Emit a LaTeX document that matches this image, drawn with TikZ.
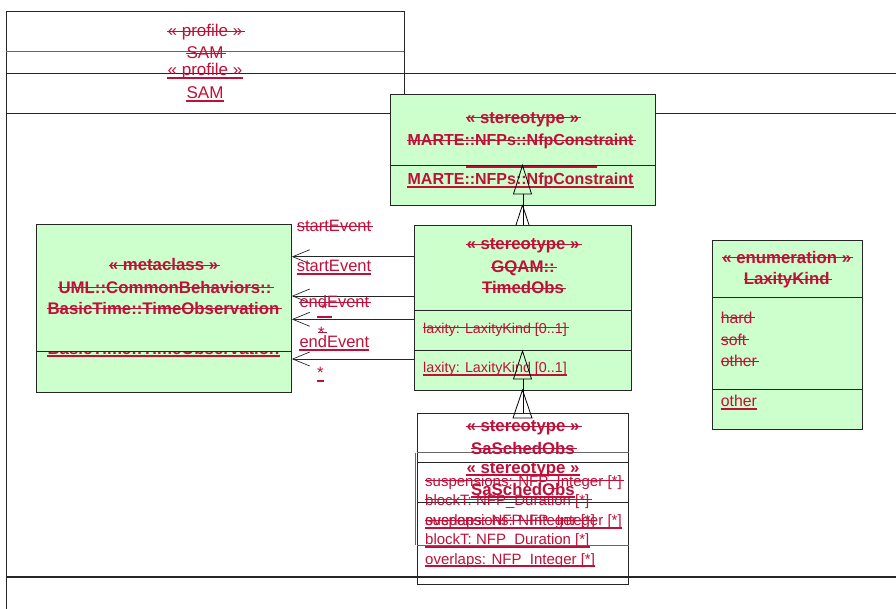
\documentclass[tikz,border=0pt]{standalone}
\usepackage{fontspec}
\setmainfont{Liberation Sans}
\usetikzlibrary{arrows.meta, calc}

\definecolor{umlgreen}{RGB}{204,255,204}
\definecolor{diffred}{RGB}{190,16,56}
\newcommand{\attrfont}{\fontsize{15}{18}\selectfont}
\newcommand{\enumfont}{\fontsize{15.8}{18}\selectfont}
\newcommand{\laxfont}{\fontsize{14.3}{17}\selectfont}
\newcommand{\rolefont}{\fontsize{16.5}{19}\selectfont}
\newcommand{\namefont}{\fontsize{16.8}{19}\selectfont\bfseries}
\newcommand{\nfpfont}{\fontsize{16}{19}\selectfont\bfseries}
\newcommand{\pkgfont}{\fontsize{17}{20}\selectfont}

\tikzset{
  umlbox/.style={draw=black!85, fill=umlgreen, line width=0.8pt, anchor=north west, inner sep=0pt},
  sep/.style={draw=black!85, line width=0.8pt},
  del/.style={text=diffred, anchor=base, inner sep=0pt, font=\attrfont,
    append after command={([yshift=5.5pt]\tikzlastnode.base west) edge[draw=diffred, line width=1pt] ([xshift=2pt,yshift=5.5pt]\tikzlastnode.base east)}},
  ins/.style={text=diffred, anchor=base, inner sep=0pt, font=\attrfont,
    append after command={([yshift=-2.2pt]\tikzlastnode.base west) edge[draw=diffred, line width=2pt] ([yshift=-2.2pt]\tikzlastnode.base east)}},
  assoc/.style={draw=black!85, line width=0.7pt, -{Straight Barb[length=17pt, width=14pt]}},
  gen/.style={draw=black, line width=0.8pt},
}

\begin{document}
\begin{tikzpicture}[x=1pt, y=-1pt]
\useasboundingbox (0,0) rectangle (896,609);

% Profile package
\draw[sep] (6,609) -- (6,11) -- (404,11) -- (404,113);
\draw[draw=black!60, line width=0.8pt] (6,51) -- (404,51);
\draw[sep] (6,73) -- (896,73);
\draw[sep] (6,113) -- (896,113);
\draw[sep, line width=1.1pt] (6,577) -- (896,577);
\node[del, font=\pkgfont] (pkgold) at (205,37) {« profile »};
\node[del, font=\pkgfont] (samold) at (205,59) {SAM};
\node[ins, font=\pkgfont] (pkgnew) at (205,76) {« profile »};
\node[ins, font=\pkgfont] (samnew) at (205,99) {SAM};

% Metaclass
\node[umlbox, minimum width=255pt, minimum height=168pt] (meta) at (36,224) {};
\node[ins, font=\namefont] (metanew) at (163.5,354) {BasicTime::TimeObservation};
\draw[sep, fill=umlgreen] (meta.north west) rectangle (291,351.7);
\node[del, font=\namefont] (metast) at (163.5,271) {« metaclass »};
\node[del, font=\namefont] (metaname1) at (165,293.3) {UML::CommonBehaviors::};
\node[del, font=\namefont] (metaname2) at (163.5,314.3) {BasicTime::TimeObservation};

% NfpConstraint
\node[umlbox, minimum width=265pt, minimum height=111pt] (nfp) at (390,94) {};
\draw[draw=diffred, line width=2pt] (466,166.8) -- (597,166.8);
\draw[sep] (nfp.west |- 0,165.3) -- (nfp.east |- 0,165.3);
\node[del, font=\namefont] (nfpst) at (522.5,123.3) {« stereotype »};
\node[del, font=\nfpfont] (nfpold) at (520.5,145.7) {MARTE::NFPs::NfpConstraint};
\node[ins, font=\nfpfont] (nfpnew) at (520.5,185) {MARTE::NFPs::NfpConstraint};

% TimedObs
\node[umlbox, minimum width=217pt, minimum height=165pt] (timed) at (414,225) {};
\draw[sep] (timed.west |- 0,310) -- (timed.east |- 0,310);
\draw[sep] (timed.west |- 0,350) -- (timed.east |- 0,350);
\node[del, font=\namefont] (timedst) at (523,250) {« stereotype »};
\node[del, font=\namefont] (timedname1) at (523,272.7) {GQAM::};
\node[del, font=\namefont] (timedname2) at (523,294) {TimedObs};
\node[del, font=\laxfont, anchor=base west] (laxold) at (423,333.3) {laxity: LaxityKind [0..1]};
\node[ins, font=\laxfont, anchor=base west] (laxnew) at (423,372.7) {laxity: LaxityKind [0..1]};

% LaxityKind
\node[umlbox, minimum width=150.6pt, minimum height=189pt] (enum) at (711.7,240) {};
\draw[sep] (enum.west |- 0,297.3) -- (enum.east |- 0,297.3);
\draw[sep] (enum.west |- 0,389.3) -- (enum.east |- 0,389.3);
\node[del, font=\namefont] (enumst) at (786.7,263.3) {« enumeration »};
\node[del, font=\namefont] (enumname) at (786.7,285) {LaxityKind};
\node[del, font=\enumfont, anchor=base west] (hard) at (720.7,323.3) {hard};
\node[del, font=\enumfont, anchor=base west] (soft) at (720.7,345) {soft};
\node[del, font=\enumfont, anchor=base west] (otherold) at (720.7,366.7) {other};
\node[ins, font=\enumfont, anchor=base west] (othernew) at (720.7,406.7) {other};

% SaSchedObs
\node[umlbox, fill=none, minimum width=211pt, minimum height=171pt] (sched) at (417,413) {};
\draw[draw=black!60, line width=0.8pt] (sched.west |- 0,452.7) -- (sched.east |- 0,452.7);
\draw[sep] (sched.west |- 0,462.7) -- (sched.east |- 0,462.7);
\draw[sep] (sched.west |- 0,502) -- (sched.east |- 0,502);
\draw[draw=black!60, line width=0.8pt] (sched.west |- 0,545) -- (sched.east |- 0,545);
\draw[draw=black!60, line width=0.8pt] ([xshift=-1.5pt]sched.west |- 0,452.7) -- ([xshift=-1.5pt]sched.west |- 0,545);
\node[del, font=\namefont] (schedst) at (523,431.7) {« stereotype »};
\node[del, font=\namefont] (schedold) at (523,454) {SaSchedObs};
\node[ins, font=\namefont] (schedstnew) at (523,473) {« stereotype »};
\node[ins, font=\namefont] (schednew) at (523,495) {SaSchedObs};
\node[del, anchor=base west] (suspold) at (425,486) {suspensions: NFP\_Integer [*]};
\node[del, anchor=base west] (blockold) at (425,505) {blockT: NFP\_Duration [*]};
\node[del, anchor=base west] (overold) at (425,525.5) {overlaps: NFP\_Integer [*]};
\node[ins, anchor=base west] (suspnew) at (425,525.5) {suspensions: NFP\_Integer [*]};
\node[ins, anchor=base west] (blocknew) at (425,544.5) {blockT: NFP\_Duration [*]};
\node[ins, anchor=base west] (overnew) at (425,564) {overlaps: NFP\_Integer [*]};

% Associations
\coordinate (startold) at (0,256.7);
\coordinate (endold) at (0,296);
\coordinate (startnew) at (0,319.3);
\coordinate (endnew) at (0,359);
\draw[assoc] (timed.west |- startold) -- (meta.east |- startold);
\draw[assoc] (timed.west |- endold) -- (meta.east |- endold);
\draw[assoc] (timed.west |- startnew) -- (meta.east |- startnew);
\draw[assoc] (timed.west |- endnew) -- (meta.east |- endnew);
\node[del, font=\rolefont, anchor=base west] (selold) at (296.7,232) {startEvent};
\node[ins, font=\rolefont, anchor=base west] (selnew) at (296.7,271.7) {startEvent};
\node[del, font=\rolefont, anchor=base west] (eelold) at (299.3,308) {endEvent};
\node[ins, font=\rolefont, anchor=base west, inner xsep=4pt] (multa) at (317,315) {*};
\node[del, font=\rolefont, anchor=base west] (multb) at (318,338) {*};
\node[ins, font=\rolefont, anchor=base west] (eelnew) at (299.3,347.3) {endEvent};
\node[ins, font=\rolefont, anchor=base west] (multc) at (317,378.7) {*};

% Generalizations
\draw[gen] (timed.north) -- ++(0,-31);
\draw[gen] (522.5,165.3) -- (513.5,194) -- (531.5,194) -- cycle;
\draw[gen] (522.5,205) -- (516,225) (522.5,205) -- (529,225);
\draw[gen] (sched.north) -- ++(0,-34);
\draw[gen] (522.5,351) -- (513.5,379) -- (531.5,379) -- cycle;
\draw[gen] (522.5,390) -- (513,418) -- (532,418) -- cycle;
\end{tikzpicture}
\end{document}
